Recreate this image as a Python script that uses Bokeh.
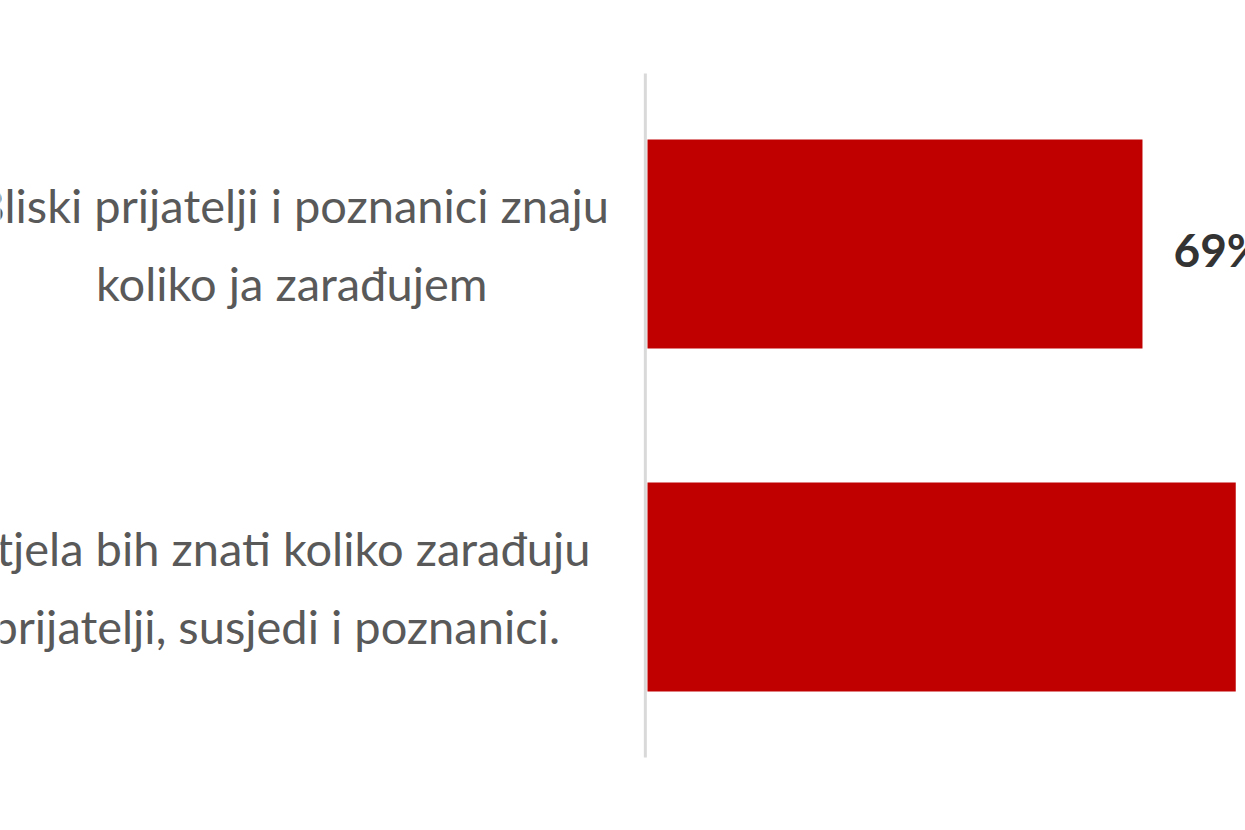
from bokeh.plotting import figure
from bokeh.models import Range1d, ColumnDataSource
from bokeh.core.properties import value
from bokeh.embed import file_html
from bokeh.resources import INLINE

categories = [
    "Bliski prijatelji i poznanici znaju\nkoliko ja zarađujem",
    "Htjela bih znati koliko zarađuju\nprijatelji, susjedi i poznanici.",
]
values = [69, 82]
value_labels = ["69%", "82%"]

# layout (positions computed from index, not data)
ypos = [len(categories) - 1 - i for i in range(len(categories))]
label_x = -49.6
label_shift_px = [0, -16]

src = ColumnDataSource(dict(
    y=ypos, v=values, cat=categories, lab=value_labels,
    lx=[label_x] * len(categories), lsh=label_shift_px,
))

p = figure(width=1245, height=830, output_backend="svg", toolbar_location=None,
           x_range=Range1d(-90.19, 83.36), y_range=Range1d(-0.710, 1.710),
           min_border=0, outline_line_color=None, background_fill_color="white",
           border_fill_color="white")
p.axis.visible = False
p.grid.visible = False

# category axis line
p.segment(x0=[-0.3], y0=[-0.497], x1=[-0.3], y1=[1.497], line_color="#d9d9d9", line_width=3)

p.hbar(y="y", right="v", left=0, height=0.61, source=src,
       fill_color="#C00000", line_color=None)

p.text(x="lx", y="y", text="cat", source=src, x_offset="lsh", text_align="center",
       text_baseline="middle", text_font=value("Lato"), text_font_size="47px",
       text_color="#595959", text_line_height=1.4)

p.text(x="v", y="y", text="lab", source=src, x_offset=31, y_offset=5,
       text_align="left", text_baseline="middle", text_font=value("Lato"),
       text_font_size="46px", text_color="#333333", text_font_style="bold")

open("out.html", "w").write(file_html(p, INLINE))
